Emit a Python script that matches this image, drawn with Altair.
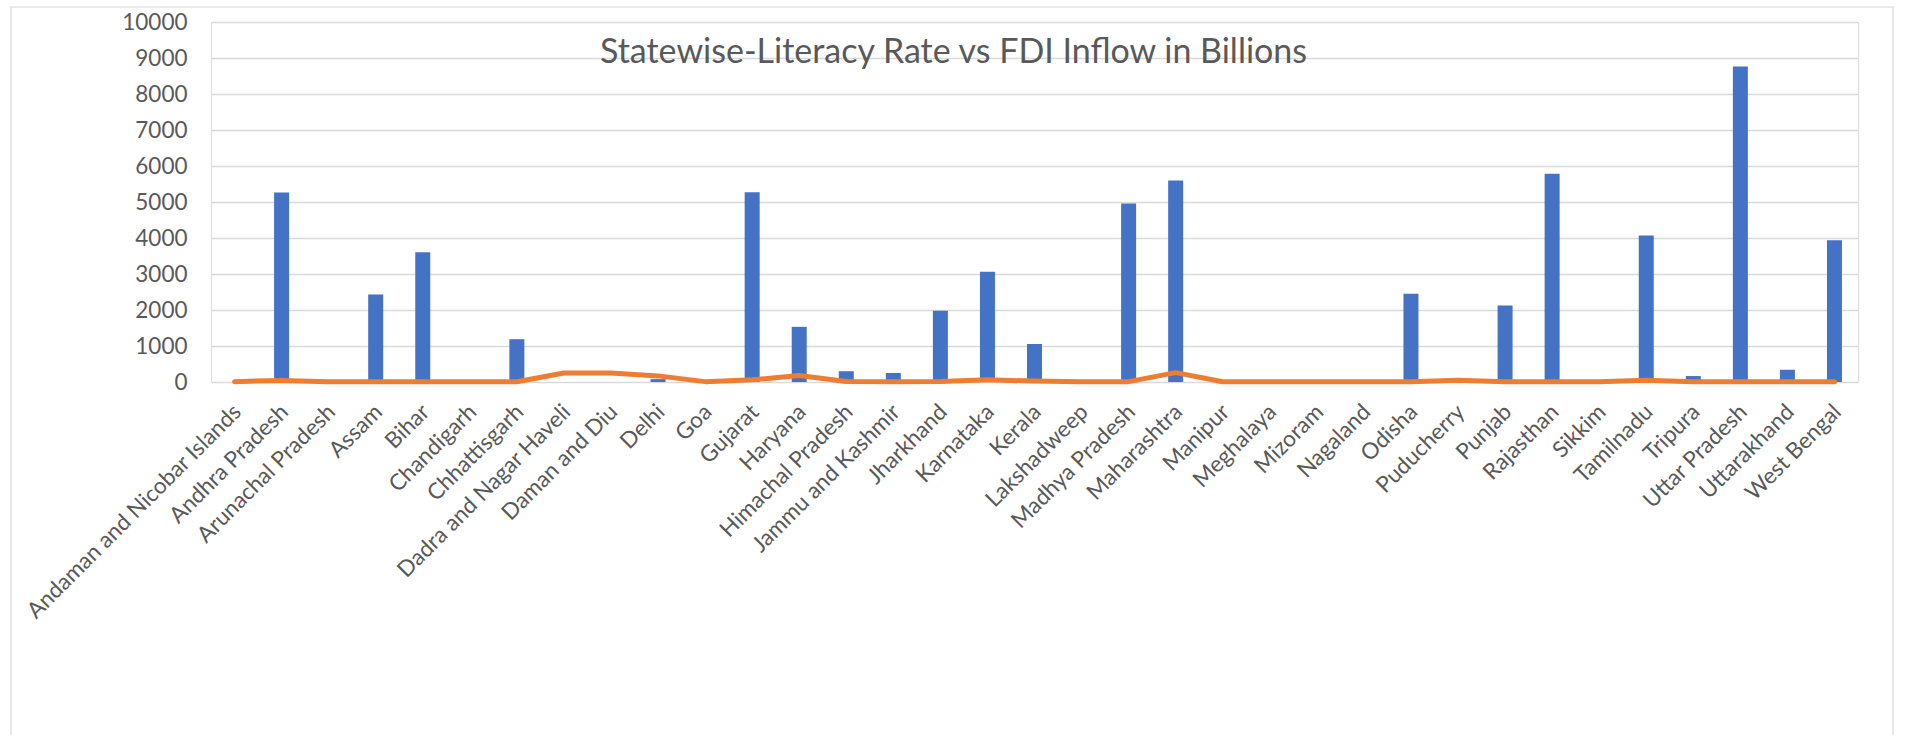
import altair as alt
import pandas as pd

states = [
    "Andaman and Nicobar Islands", "Andhra Pradesh", "Arunachal Pradesh", "Assam", "Bihar",
    "Chandigarh", "Chhattisgarh", "Dadra and Nagar Haveli", "Daman and Diu", "Delhi", "Goa",
    "Gujarat", "Haryana", "Himachal Pradesh", "Jammu and Kashmir", "Jharkhand", "Karnataka",
    "Kerala", "Lakshadweep", "Madhya Pradesh", "Maharashtra", "Manipur", "Meghalaya", "Mizoram",
    "Nagaland", "Odisha", "Puducherry", "Punjab", "Rajasthan", "Sikkim", "Tamilnadu", "Tripura",
    "Uttar Pradesh", "Uttarakhand", "West Bengal",
]
bar_values = [
    0, 5265, 0, 2432, 3602,
    0, 1189, 0, 0, 80, 0,
    5273, 1532, 300, 251, 1978, 3064,
    1055, 0, 4958, 5598, 0, 0, 0,
    0, 2451, 0, 2125, 5784, 0, 4067, 165,
    8762, 340, 3936,
]
line_values = [
    10, 45, 5, 5, 5,
    5, 5, 250, 250, 170, 10,
    60, 180, 15, 10, 15, 60,
    25, 5, 10, 260, 5, 5, 5,
    5, 5, 50, 5, 5, 10, 50, 5,
    5, 5, 5,
]
y_ticks = [0, 1000, 2000, 3000, 4000, 5000, 6000, 7000, 8000, 9000, 10000]
title_text = "Statewise-Literacy Rate vs FDI Inflow in Billions"

df = pd.DataFrame({"state": states, "bar": bar_values, "line": line_values})

FONT = "Lato"
GRAY = "#595959"

x_axis = alt.Axis(labelAngle=-45, labelAlign="right", labelBaseline="middle",
                  labelPadding=26, labelOffset=3, ticks=False, domain=False, grid=False,
                  labelFont=FONT, labelFontSize=22.5, labelColor=GRAY,
                  labelOverlap=False, labelLimit=0)
y_axis = alt.Axis(values=y_ticks, format="d", ticks=False, domain=False,
                  grid=True, gridColor="#d9d9d9", gridWidth=1.5,
                  labelFont=FONT, labelFontSize=22.5, labelColor=GRAY,
                  labelOverlap=False, labelPadding=24)
y_scale = alt.Scale(domain=[0, 10000], nice=False)
x_scale = alt.Scale(paddingInner=0, paddingOuter=0)

bars = alt.Chart(df).mark_bar(color="#4472C4", size=15).encode(
    x=alt.X("state:N", sort=states, title=None, scale=x_scale, axis=x_axis),
    y=alt.Y("bar:Q", title=None, scale=y_scale, axis=y_axis),
)

line = alt.Chart(df).mark_line(color="#ED7D31", strokeWidth=5,
                               strokeCap="round", strokeJoin="round").encode(
    x=alt.X("state:N", sort=states, title=None, scale=x_scale, axis=x_axis),
    y=alt.Y("line:Q", title=None, scale=y_scale, axis=y_axis),
)

border = alt.Chart(alt.Data(values=[{"k": 1}])).mark_rect(
    fill=None, fillOpacity=0, stroke="#d9d9d9", strokeWidth=1.2
).encode(
    x=alt.value(-200), x2=alt.value(1682), y=alt.value(-15), y2=alt.value(900)
)

chart = alt.layer(border, bars, line).properties(
    width=1647, height=360,
    title=alt.TitleParams(title_text, font=FONT, fontSize=34, fontWeight="normal",
                          color=GRAY, anchor="middle", frame="group",
                          baseline="alphabetic", offset=0, dx=-81, dy=91),
    autosize=alt.AutoSizeParams(type="none"),
    padding={"left": 211, "top": 22, "right": 47, "bottom": 353},
).configure_view(stroke=None).configure(background="white")

chart.save("out.html", embed_options={"renderer": "svg", "actions": False})
